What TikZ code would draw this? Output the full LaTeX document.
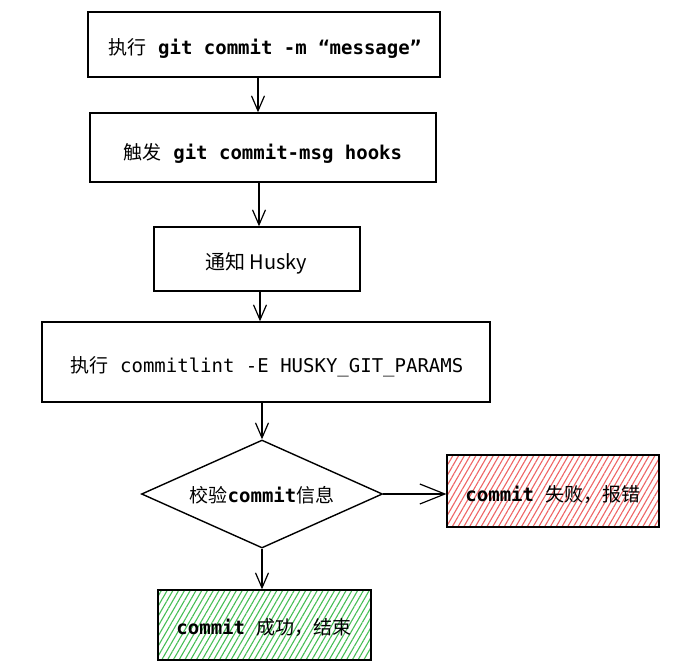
\documentclass[tikz,border=0pt]{standalone}
\usepackage{fontspec}
\usetikzlibrary{arrows.meta,patterns.meta,shapes.geometric}
\setmainfont{DejaVu Sans Mono}
\newfontfamily\cjk{Noto Sans CJK SC}
\definecolor{hred}{RGB}{238,100,100}
\definecolor{hgreen}{RGB}{70,190,85}
\begin{document}
\begin{tikzpicture}[x=1pt,y=-1pt,
  box/.style={draw=black,line width=1.4pt,rectangle,inner sep=0pt},
  conn/.style={draw,line width=1.2pt,-{Straight Barb[length=15pt,width=13pt,line width=1.2pt]}},
  lconn/.style={draw,line width=1.2pt,-{Straight Barb[length=25pt,width=20pt,line width=1.2pt]}},
  lblb/.style={inner sep=0pt,font=\fontsize{19}{23}\selectfont\bfseries},
  lblr/.style={inner sep=0pt,font=\fontsize{19}{23}\selectfont},
  redfill/.style={pattern={Lines[angle=60,distance=5pt,line width=1.1pt]},pattern color=hred},
  greenfill/.style={pattern={Lines[angle=60,distance=5pt,line width=1.1pt]},pattern color=hgreen}]
\useasboundingbox (0,0) rectangle (682,670);
% shapes
\node[box,minimum width=352pt,minimum height=65pt] (b1) at (264,44.5) {};
\node[box,minimum width=346pt,minimum height=69pt] (b2) at (263,147.5) {};
\node[box,minimum width=206pt,minimum height=64pt] (b3) at (257,259) {};
\node[box,minimum width=448pt,minimum height=80pt] (b4) at (266,362) {};
\node[draw=black,line width=1.4pt,diamond,aspect=2.23,inner sep=0pt,minimum width=241pt,minimum height=108pt] (d) at (262,494) {};
\node[box,redfill,minimum width=212pt,minimum height=72pt] (r) at (553,491) {};
\node[box,greenfill,minimum width=213pt,minimum height=70pt] (g) at (264.5,625) {};
% texts
\node[lblb] (t1) at (265,48) {{\cjk\mdseries 执行} git commit -m “message”};
\node[lblb] (t2) at (263,153) {{\cjk\mdseries 触发} git commit-msg hooks};
\node[inner sep=0pt,font=\fontsize{20}{24}\cjk] (t3) at (256,263) {通知 Husky};
\node[lblr] (t4) at (267,367) {{\cjk 执行} commitlint -E HUSKY\_GIT\_PARAMS};
\node[lblb] (t5) at (262,495) {{\cjk\mdseries 校验}commit{\cjk\mdseries 信息}};
\node[lblb] (t6) at (553,495) {commit {\cjk\mdseries 失败，报错}};
\node[lblb] (t7) at (264,628) {commit {\cjk\mdseries 成功，结束}};
% connectors
\draw[conn] (b1.south -| 258,0) -- (b2.north -| 258,0);
\draw[conn] (b2.south -| 259,0) -- (b3.north -| 259,0);
\draw[conn] (b3.south -| 260,0) -- (b4.north -| 260,0);
\draw[conn] (b4.south -| 262,0) -- (d.north);
\draw[conn] (d.south) -- (g.north -| d.south);
\draw[lconn] (d.east) -- (r.west |- d.east);
\end{tikzpicture}
\end{document}
